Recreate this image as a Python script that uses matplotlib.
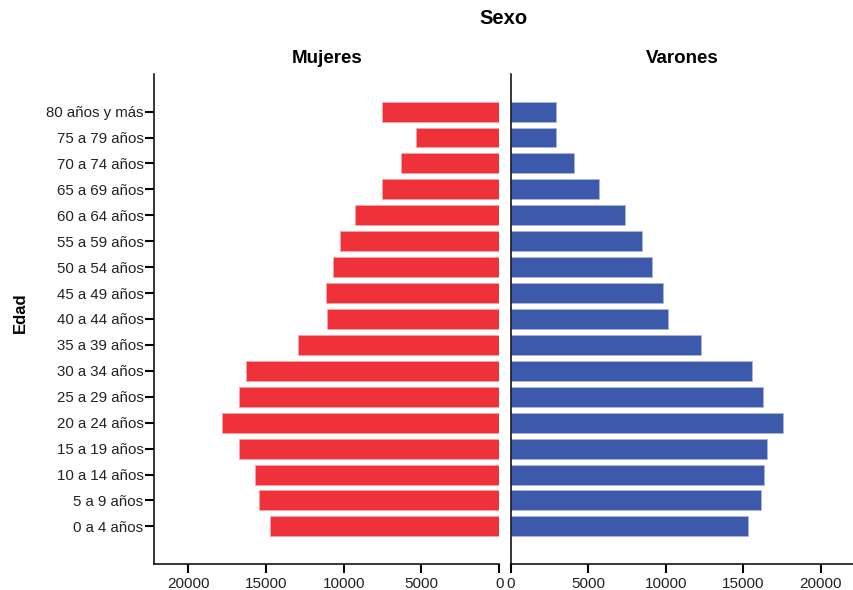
import matplotlib
matplotlib.use("Agg")
import matplotlib.pyplot as plt

plt.rcParams['font.family'] = ['Liberation Sans', 'DejaVu Sans']

age_groups = ["0 a 4 años", "5 a 9 años", "10 a 14 años", "15 a 19 años",
              "20 a 24 años", "25 a 29 años", "30 a 34 años", "35 a 39 años",
              "40 a 44 años", "45 a 49 años", "50 a 54 años", "55 a 59 años",
              "60 a 64 años", "65 a 69 años", "70 a 74 años", "75 a 79 años",
              "80 años y más"]
mujeres = [14760, 15420, 15720, 16730, 17840, 16730, 16300, 12930,
           11090, 11170, 10660, 10230, 9270, 7570, 6330, 5380, 7570]
varones = [15310, 16130, 16340, 16560, 17590, 16260, 15550, 12300,
           10170, 9810, 9140, 8490, 7370, 5700, 4070, 2900, 2900]
x_ticks = [0, 5000, 10000, 15000, 20000]

red = "#EF3139"
blue = "#3D59AC"

fig = plt.figure(figsize=(8.54, 5.90), dpi=100)
bottom = 0.0441
height = 0.8305
axL = fig.add_axes([0.1803, bottom, 0.4043, height])
axR = fig.add_axes([0.5980, bottom, 0.4010, height])

ypos = list(range(len(age_groups)))
axL.barh(ypos, mujeres, height=0.77, color=red, edgecolor="#F7A3A6", linewidth=0.6)
axR.barh(ypos, varones, height=0.77, color=blue, edgecolor="#A9B6DE", linewidth=0.6)

for ax in (axL, axR):
    ax.set_ylim(-1.45, len(age_groups) - 1 + 1.45)
    ax.set_xticks(x_ticks)
    ax.set_xticklabels([str(v) for v in x_ticks], fontsize=11, color="#222222")
    ax.spines['top'].set_visible(False)
    ax.spines['right'].set_visible(False)
    ax.spines['left'].set_linewidth(1.1)
    ax.spines['bottom'].set_linewidth(1.1)
    ax.tick_params(axis='x', length=6.5, width=1.5, pad=3)

axL.set_xlim(22200, 0)
axR.set_xlim(0, 22100)

axL.set_yticks(ypos)
axL.set_yticklabels(age_groups, fontsize=10.8, color="#222222")
axL.tick_params(axis='y', length=6.5, width=1.5, pad=1)
axR.set_yticks([])

fig.text(0.5895, 1 - 19 / 590, "Sexo", fontsize=14.5, fontweight='bold',
         ha='center', va='center')
fig.text((154 + 499.3) / 2 / 854, 1 - 58.5 / 590, "Mujeres", fontsize=13.5,
         fontweight='bold', ha='center', va='center')
fig.text((510.7 + 853) / 2 / 854, 1 - 58.5 / 590, "Varones", fontsize=13.5,
         fontweight='bold', ha='center', va='center')
fig.text(20.5 / 854, 1 - 313 / 590, "Edad", fontsize=12, fontweight='bold',
         rotation=90, ha='center', va='center')

fig.savefig("out.png", dpi=100)
